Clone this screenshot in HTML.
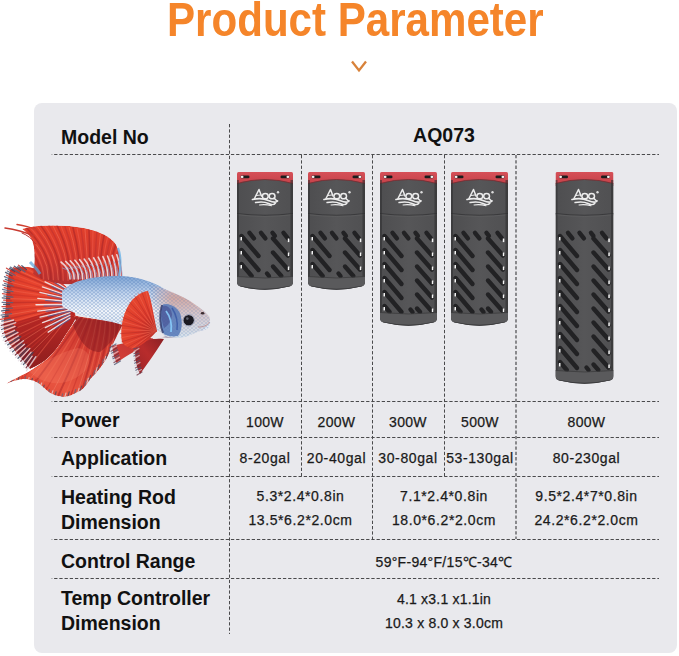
<!DOCTYPE html>
<html><head><meta charset="utf-8">
<style>
html,body{margin:0;padding:0;background:#fff;}
body{width:679px;height:656px;position:relative;overflow:hidden;font-family:"Liberation Sans",Arial,sans-serif;}
.abs{position:absolute;white-space:nowrap;}
#title{left:167px;top:-9px;font-size:49px;font-weight:bold;color:#F5852A;line-height:56px;transform-origin:0 0;transform:scaleX(0.859);}
#panel{left:34px;top:103px;width:643px;height:550px;border-radius:8px;background:#E9E9ED;}
.lab{font-weight:bold;font-size:19.5px;color:#111;line-height:24.5px;left:61px;}
.val{font-size:14px;color:#1a1a1a;line-height:24px;text-align:center;-webkit-text-stroke:0.25px #1a1a1a;}
svg{position:absolute;left:0;top:0;}
</style></head>
<body>
<div id="title" class="abs">Product Parameter</div>
<svg width="679" height="100" style="left:0;top:0"><polyline points="352,61.5 359,70.5 366,61.5" fill="none" stroke="#D8823A" stroke-width="2.3" stroke-linejoin="miter"/></svg>
<div id="panel" class="abs"></div>
<svg width="679" height="656"><defs>
<linearGradient id="redg" x1="0" y1="0" x2="0" y2="1"><stop offset="0" stop-color="#d65058"/><stop offset="1" stop-color="#c23e46"/></linearGradient>
<linearGradient id="bodyg" x1="0" y1="0" x2="1" y2="0"><stop offset="0" stop-color="#4e4e50"/><stop offset="0.5" stop-color="#565658"/><stop offset="1" stop-color="#505052"/></linearGradient>
</defs>
<clipPath id="hc0"><path d="M238.5,172 L291.5,172 Q293,172 293,173.5 L293,282 Q293,285.5 289,286.6 Q265.0,292.8 241,286.6 Q237,285.5 237,282 L237,173.5 Q237,172 238.5,172 Z"/></clipPath>
<g clip-path="url(#hc0)">
<rect x="237" y="172" width="56" height="14" fill="url(#redg)"/>
<path d="M237,183.5 Q265.0,175.5 293,183.5 L293,292 L237,292 Z" fill="url(#bodyg)"/>
<path d="M237,183.5 Q265.0,175.5 293,183.5" fill="none" stroke="#7a2a30" stroke-width="1" opacity="0.8"/>
<rect x="240.5" y="175.6" width="9" height="2.6" rx="1.3" fill="#1c1c1c"/>
<rect x="240.7" y="175.8" width="2.8" height="2.2" rx="1.1" fill="#f4f0f0"/>
<rect x="280.5" y="175.6" width="9" height="2.6" rx="1.3" fill="#1c1c1c"/>
<rect x="286.5" y="175.8" width="2.8" height="2.2" rx="1.1" fill="#f4f0f0"/>
<path d="M237,213.5 Q265.0,217 293,213.5" fill="none" stroke="#3a3a3c" stroke-width="1"/>
<path d="M237,214.7 Q265.0,218.2 293,214.7" fill="none" stroke="#5e5e60" stroke-width="0.8"/>
<g fill="none" stroke="#ececec" stroke-width="1.5" stroke-linecap="round" stroke-linejoin="round"><path d="M254.5,198.5 L259.0,189.5 L261.5,196" /><path d="M256.5,195.5 L260.5,195" stroke-width="1"/><ellipse cx="265.3" cy="196.2" rx="2.9" ry="2.6"/><ellipse cx="272.1" cy="196.2" rx="2.9" ry="2.6"/><path d="M274.0,198 L277.0,201"/><path d="M252.5,199.5 Q261.5,197.5 268.5,200.5 T277.5,201" stroke-width="1.7"/><path d="M255.5,202.5 Q263.5,201 268.5,203.5 T275.5,203" stroke-width="1.4"/><path d="M259.5,205 Q265.5,204 271.5,205.8" stroke-width="1.1"/></g>
<circle cx="278.0" cy="192.2" r="1.2" fill="#ddd"/>
<g stroke="#222224" stroke-width="4.4" stroke-linecap="round"><line x1="249.5" y1="232.8" x2="253.9" y2="238.3"/><line x1="261.0" y1="232.8" x2="265.4" y2="238.3"/><line x1="272.5" y1="232.8" x2="274.9" y2="235.8"/><line x1="283.5" y1="232.8" x2="287.9" y2="238.3"/><line x1="241.5" y1="236" x2="258.5" y2="256"/><line x1="273" y1="238.5" x2="287.96" y2="255.5"/><line x1="241.5" y1="250" x2="258.5" y2="270"/><line x1="273" y1="252.5" x2="287.96" y2="269.5"/><line x1="241.5" y1="264" x2="251.7" y2="276"/><line x1="273" y1="266.5" x2="281.36" y2="276"/><line x1="267.0" y1="273.5" x2="269.0" y2="276"/></g>
<rect x="240.5" y="237" width="1.5" height="3.4" fill="#f4f4f4"/><rect x="287.8" y="238.5" width="1.5" height="3.6" fill="#f4f4f4"/><rect x="240.5" y="251" width="1.5" height="3.4" fill="#f4f4f4"/><rect x="287.8" y="252.5" width="1.5" height="3.6" fill="#f4f4f4"/><rect x="240.5" y="265" width="1.5" height="3.4" fill="#f4f4f4"/><rect x="287.8" y="266.5" width="1.5" height="3.6" fill="#f4f4f4"/>
<rect x="237" y="180" width="2" height="118" fill="#2e2e30" opacity="0.55"/>
<rect x="290.5" y="180" width="2.5" height="118" fill="#2e2e30" opacity="0.6"/>
<path d="M237,276.5 Q265.0,279.5 293,276.5 L293,293 L237,293 Z" fill="#5a5a5c"/>
<path d="M237,276.5 Q265.0,279.5 293,276.5" fill="none" stroke="#3c3c3e" stroke-width="0.8"/>
<path d="M240,286.4 Q265.0,292.2 290,286.4" fill="none" stroke="#3a3a3c" stroke-width="1.2"/>
</g>
<clipPath id="hc1"><path d="M309.5,172 L363.5,172 Q365,172 365,173.5 L365,282 Q365,285.5 361,286.6 Q336.5,292.8 312,286.6 Q308,285.5 308,282 L308,173.5 Q308,172 309.5,172 Z"/></clipPath>
<g clip-path="url(#hc1)">
<rect x="308" y="172" width="57" height="14" fill="url(#redg)"/>
<path d="M308,183.5 Q336.5,175.5 365,183.5 L365,292 L308,292 Z" fill="url(#bodyg)"/>
<path d="M308,183.5 Q336.5,175.5 365,183.5" fill="none" stroke="#7a2a30" stroke-width="1" opacity="0.8"/>
<rect x="311.5" y="175.6" width="9" height="2.6" rx="1.3" fill="#1c1c1c"/>
<rect x="311.7" y="175.8" width="2.8" height="2.2" rx="1.1" fill="#f4f0f0"/>
<rect x="352.5" y="175.6" width="9" height="2.6" rx="1.3" fill="#1c1c1c"/>
<rect x="358.5" y="175.8" width="2.8" height="2.2" rx="1.1" fill="#f4f0f0"/>
<path d="M308,213.5 Q336.5,217 365,213.5" fill="none" stroke="#3a3a3c" stroke-width="1"/>
<path d="M308,214.7 Q336.5,218.2 365,214.7" fill="none" stroke="#5e5e60" stroke-width="0.8"/>
<g fill="none" stroke="#ececec" stroke-width="1.5" stroke-linecap="round" stroke-linejoin="round"><path d="M326.0,198.5 L330.5,189.5 L333.0,196" /><path d="M328.0,195.5 L332.0,195" stroke-width="1"/><ellipse cx="336.8" cy="196.2" rx="2.9" ry="2.6"/><ellipse cx="343.6" cy="196.2" rx="2.9" ry="2.6"/><path d="M345.5,198 L348.5,201"/><path d="M324.0,199.5 Q333.0,197.5 340.0,200.5 T349.0,201" stroke-width="1.7"/><path d="M327.0,202.5 Q335.0,201 340.0,203.5 T347.0,203" stroke-width="1.4"/><path d="M331.0,205 Q337.0,204 343.0,205.8" stroke-width="1.1"/></g>
<circle cx="349.5" cy="192.2" r="1.2" fill="#ddd"/>
<g stroke="#222224" stroke-width="4.4" stroke-linecap="round"><line x1="320.5" y1="232.8" x2="324.9" y2="238.3"/><line x1="332.0" y1="232.8" x2="336.4" y2="238.3"/><line x1="343.5" y1="232.8" x2="345.9" y2="235.8"/><line x1="354.5" y1="232.8" x2="358.9" y2="238.3"/><line x1="312.5" y1="236" x2="329.5" y2="256"/><line x1="345" y1="238.5" x2="359.96" y2="255.5"/><line x1="312.5" y1="250" x2="329.5" y2="270"/><line x1="345" y1="252.5" x2="359.96" y2="269.5"/><line x1="312.5" y1="264" x2="322.7" y2="276"/><line x1="345" y1="266.5" x2="353.36" y2="276"/><line x1="338.5" y1="273.5" x2="340.5" y2="276"/></g>
<rect x="311.5" y="237" width="1.5" height="3.4" fill="#f4f4f4"/><rect x="359.8" y="238.5" width="1.5" height="3.6" fill="#f4f4f4"/><rect x="311.5" y="251" width="1.5" height="3.4" fill="#f4f4f4"/><rect x="359.8" y="252.5" width="1.5" height="3.6" fill="#f4f4f4"/><rect x="311.5" y="265" width="1.5" height="3.4" fill="#f4f4f4"/><rect x="359.8" y="266.5" width="1.5" height="3.6" fill="#f4f4f4"/>
<rect x="308" y="180" width="2" height="118" fill="#2e2e30" opacity="0.55"/>
<rect x="362.5" y="180" width="2.5" height="118" fill="#2e2e30" opacity="0.6"/>
<path d="M308,276.5 Q336.5,279.5 365,276.5 L365,293 L308,293 Z" fill="#5a5a5c"/>
<path d="M308,276.5 Q336.5,279.5 365,276.5" fill="none" stroke="#3c3c3e" stroke-width="0.8"/>
<path d="M311,286.4 Q336.5,292.2 362,286.4" fill="none" stroke="#3a3a3c" stroke-width="1.2"/>
</g>
<clipPath id="hc2"><path d="M381.5,172 L435.5,172 Q437,172 437,173.5 L437,318 Q437,321.5 433,322.6 Q408.5,328.8 384,322.6 Q380,321.5 380,318 L380,173.5 Q380,172 381.5,172 Z"/></clipPath>
<g clip-path="url(#hc2)">
<rect x="380" y="172" width="57" height="14" fill="url(#redg)"/>
<path d="M380,183.5 Q408.5,175.5 437,183.5 L437,328 L380,328 Z" fill="url(#bodyg)"/>
<path d="M380,183.5 Q408.5,175.5 437,183.5" fill="none" stroke="#7a2a30" stroke-width="1" opacity="0.8"/>
<rect x="383.5" y="175.6" width="9" height="2.6" rx="1.3" fill="#1c1c1c"/>
<rect x="383.7" y="175.8" width="2.8" height="2.2" rx="1.1" fill="#f4f0f0"/>
<rect x="424.5" y="175.6" width="9" height="2.6" rx="1.3" fill="#1c1c1c"/>
<rect x="430.5" y="175.8" width="2.8" height="2.2" rx="1.1" fill="#f4f0f0"/>
<path d="M380,213.5 Q408.5,217 437,213.5" fill="none" stroke="#3a3a3c" stroke-width="1"/>
<path d="M380,214.7 Q408.5,218.2 437,214.7" fill="none" stroke="#5e5e60" stroke-width="0.8"/>
<g fill="none" stroke="#ececec" stroke-width="1.5" stroke-linecap="round" stroke-linejoin="round"><path d="M398.0,198.5 L402.5,189.5 L405.0,196" /><path d="M400.0,195.5 L404.0,195" stroke-width="1"/><ellipse cx="408.8" cy="196.2" rx="2.9" ry="2.6"/><ellipse cx="415.6" cy="196.2" rx="2.9" ry="2.6"/><path d="M417.5,198 L420.5,201"/><path d="M396.0,199.5 Q405.0,197.5 412.0,200.5 T421.0,201" stroke-width="1.7"/><path d="M399.0,202.5 Q407.0,201 412.0,203.5 T419.0,203" stroke-width="1.4"/><path d="M403.0,205 Q409.0,204 415.0,205.8" stroke-width="1.1"/></g>
<circle cx="421.5" cy="192.2" r="1.2" fill="#ddd"/>
<g stroke="#222224" stroke-width="4.4" stroke-linecap="round"><line x1="392.5" y1="232.8" x2="396.9" y2="238.3"/><line x1="404.0" y1="232.8" x2="408.4" y2="238.3"/><line x1="415.5" y1="232.8" x2="417.9" y2="235.8"/><line x1="426.5" y1="232.8" x2="430.9" y2="238.3"/><line x1="384.5" y1="236" x2="401.5" y2="256"/><line x1="417" y1="238.5" x2="431.96" y2="255.5"/><line x1="384.5" y1="250" x2="401.5" y2="270"/><line x1="417" y1="252.5" x2="431.96" y2="269.5"/><line x1="384.5" y1="264" x2="401.5" y2="284"/><line x1="417" y1="266.5" x2="431.96" y2="283.5"/><line x1="384.5" y1="278" x2="401.5" y2="298"/><line x1="417" y1="280.5" x2="431.96" y2="297.5"/><line x1="384.5" y1="292" x2="401.5" y2="312"/><line x1="417" y1="294.5" x2="431.96" y2="311.5"/><line x1="384.5" y1="306" x2="389.6" y2="312"/><line x1="417" y1="308.5" x2="420.08" y2="312"/><line x1="410.5" y1="309.5" x2="412.5" y2="312"/></g>
<rect x="383.5" y="237" width="1.5" height="3.4" fill="#f4f4f4"/><rect x="431.8" y="238.5" width="1.5" height="3.6" fill="#f4f4f4"/><rect x="383.5" y="251" width="1.5" height="3.4" fill="#f4f4f4"/><rect x="431.8" y="252.5" width="1.5" height="3.6" fill="#f4f4f4"/><rect x="383.5" y="265" width="1.5" height="3.4" fill="#f4f4f4"/><rect x="431.8" y="266.5" width="1.5" height="3.6" fill="#f4f4f4"/><rect x="383.5" y="279" width="1.5" height="3.4" fill="#f4f4f4"/><rect x="431.8" y="280.5" width="1.5" height="3.6" fill="#f4f4f4"/><rect x="383.5" y="293" width="1.5" height="3.4" fill="#f4f4f4"/><rect x="431.8" y="294.5" width="1.5" height="3.6" fill="#f4f4f4"/><rect x="383.5" y="307" width="1.5" height="3.4" fill="#f4f4f4"/><rect x="431.8" y="308.5" width="1.5" height="3.6" fill="#f4f4f4"/>
<rect x="380" y="180" width="2" height="154" fill="#2e2e30" opacity="0.55"/>
<rect x="434.5" y="180" width="2.5" height="154" fill="#2e2e30" opacity="0.6"/>
<path d="M380,312.5 Q408.5,315.5 437,312.5 L437,329 L380,329 Z" fill="#5a5a5c"/>
<path d="M380,312.5 Q408.5,315.5 437,312.5" fill="none" stroke="#3c3c3e" stroke-width="0.8"/>
<path d="M383,322.4 Q408.5,328.2 434,322.4" fill="none" stroke="#3a3a3c" stroke-width="1.2"/>
</g>
<clipPath id="hc3"><path d="M452.5,172 L506.5,172 Q508,172 508,173.5 L508,318 Q508,321.5 504,322.6 Q479.5,328.8 455,322.6 Q451,321.5 451,318 L451,173.5 Q451,172 452.5,172 Z"/></clipPath>
<g clip-path="url(#hc3)">
<rect x="451" y="172" width="57" height="14" fill="url(#redg)"/>
<path d="M451,183.5 Q479.5,175.5 508,183.5 L508,328 L451,328 Z" fill="url(#bodyg)"/>
<path d="M451,183.5 Q479.5,175.5 508,183.5" fill="none" stroke="#7a2a30" stroke-width="1" opacity="0.8"/>
<rect x="454.5" y="175.6" width="9" height="2.6" rx="1.3" fill="#1c1c1c"/>
<rect x="454.7" y="175.8" width="2.8" height="2.2" rx="1.1" fill="#f4f0f0"/>
<rect x="495.5" y="175.6" width="9" height="2.6" rx="1.3" fill="#1c1c1c"/>
<rect x="501.5" y="175.8" width="2.8" height="2.2" rx="1.1" fill="#f4f0f0"/>
<path d="M451,213.5 Q479.5,217 508,213.5" fill="none" stroke="#3a3a3c" stroke-width="1"/>
<path d="M451,214.7 Q479.5,218.2 508,214.7" fill="none" stroke="#5e5e60" stroke-width="0.8"/>
<g fill="none" stroke="#ececec" stroke-width="1.5" stroke-linecap="round" stroke-linejoin="round"><path d="M469.0,198.5 L473.5,189.5 L476.0,196" /><path d="M471.0,195.5 L475.0,195" stroke-width="1"/><ellipse cx="479.8" cy="196.2" rx="2.9" ry="2.6"/><ellipse cx="486.6" cy="196.2" rx="2.9" ry="2.6"/><path d="M488.5,198 L491.5,201"/><path d="M467.0,199.5 Q476.0,197.5 483.0,200.5 T492.0,201" stroke-width="1.7"/><path d="M470.0,202.5 Q478.0,201 483.0,203.5 T490.0,203" stroke-width="1.4"/><path d="M474.0,205 Q480.0,204 486.0,205.8" stroke-width="1.1"/></g>
<circle cx="492.5" cy="192.2" r="1.2" fill="#ddd"/>
<g stroke="#222224" stroke-width="4.4" stroke-linecap="round"><line x1="463.5" y1="232.8" x2="467.9" y2="238.3"/><line x1="475.0" y1="232.8" x2="479.4" y2="238.3"/><line x1="486.5" y1="232.8" x2="488.9" y2="235.8"/><line x1="497.5" y1="232.8" x2="501.9" y2="238.3"/><line x1="455.5" y1="236" x2="472.5" y2="256"/><line x1="488" y1="238.5" x2="502.96" y2="255.5"/><line x1="455.5" y1="250" x2="472.5" y2="270"/><line x1="488" y1="252.5" x2="502.96" y2="269.5"/><line x1="455.5" y1="264" x2="472.5" y2="284"/><line x1="488" y1="266.5" x2="502.96" y2="283.5"/><line x1="455.5" y1="278" x2="472.5" y2="298"/><line x1="488" y1="280.5" x2="502.96" y2="297.5"/><line x1="455.5" y1="292" x2="472.5" y2="312"/><line x1="488" y1="294.5" x2="502.96" y2="311.5"/><line x1="455.5" y1="306" x2="460.6" y2="312"/><line x1="488" y1="308.5" x2="491.08" y2="312"/><line x1="481.5" y1="309.5" x2="483.5" y2="312"/></g>
<rect x="454.5" y="237" width="1.5" height="3.4" fill="#f4f4f4"/><rect x="502.8" y="238.5" width="1.5" height="3.6" fill="#f4f4f4"/><rect x="454.5" y="251" width="1.5" height="3.4" fill="#f4f4f4"/><rect x="502.8" y="252.5" width="1.5" height="3.6" fill="#f4f4f4"/><rect x="454.5" y="265" width="1.5" height="3.4" fill="#f4f4f4"/><rect x="502.8" y="266.5" width="1.5" height="3.6" fill="#f4f4f4"/><rect x="454.5" y="279" width="1.5" height="3.4" fill="#f4f4f4"/><rect x="502.8" y="280.5" width="1.5" height="3.6" fill="#f4f4f4"/><rect x="454.5" y="293" width="1.5" height="3.4" fill="#f4f4f4"/><rect x="502.8" y="294.5" width="1.5" height="3.6" fill="#f4f4f4"/><rect x="454.5" y="307" width="1.5" height="3.4" fill="#f4f4f4"/><rect x="502.8" y="308.5" width="1.5" height="3.6" fill="#f4f4f4"/>
<rect x="451" y="180" width="2" height="154" fill="#2e2e30" opacity="0.55"/>
<rect x="505.5" y="180" width="2.5" height="154" fill="#2e2e30" opacity="0.6"/>
<path d="M451,312.5 Q479.5,315.5 508,312.5 L508,329 L451,329 Z" fill="#5a5a5c"/>
<path d="M451,312.5 Q479.5,315.5 508,312.5" fill="none" stroke="#3c3c3e" stroke-width="0.8"/>
<path d="M454,322.4 Q479.5,328.2 505,322.4" fill="none" stroke="#3a3a3c" stroke-width="1.2"/>
</g>
<clipPath id="hc4"><path d="M557.0,172 L612.0,172 Q613.5,172 613.5,173.5 L613.5,376 Q613.5,379.5 609.5,380.6 Q584.5,386.8 559.5,380.6 Q555.5,379.5 555.5,376 L555.5,173.5 Q555.5,172 557.0,172 Z"/></clipPath>
<g clip-path="url(#hc4)">
<rect x="555.5" y="172" width="58" height="14" fill="url(#redg)"/>
<path d="M555.5,183.5 Q584.5,175.5 613.5,183.5 L613.5,386 L555.5,386 Z" fill="url(#bodyg)"/>
<path d="M555.5,183.5 Q584.5,175.5 613.5,183.5" fill="none" stroke="#7a2a30" stroke-width="1" opacity="0.8"/>
<rect x="559.0" y="175.6" width="9" height="2.6" rx="1.3" fill="#1c1c1c"/>
<rect x="559.2" y="175.8" width="2.8" height="2.2" rx="1.1" fill="#f4f0f0"/>
<rect x="601.0" y="175.6" width="9" height="2.6" rx="1.3" fill="#1c1c1c"/>
<rect x="607.0" y="175.8" width="2.8" height="2.2" rx="1.1" fill="#f4f0f0"/>
<path d="M555.5,213.5 Q584.5,217 613.5,213.5" fill="none" stroke="#3a3a3c" stroke-width="1"/>
<path d="M555.5,214.7 Q584.5,218.2 613.5,214.7" fill="none" stroke="#5e5e60" stroke-width="0.8"/>
<g fill="none" stroke="#ececec" stroke-width="1.5" stroke-linecap="round" stroke-linejoin="round"><path d="M574.0,198.5 L578.5,189.5 L581.0,196" /><path d="M576.0,195.5 L580.0,195" stroke-width="1"/><ellipse cx="584.8" cy="196.2" rx="2.9" ry="2.6"/><ellipse cx="591.6" cy="196.2" rx="2.9" ry="2.6"/><path d="M593.5,198 L596.5,201"/><path d="M572.0,199.5 Q581.0,197.5 588.0,200.5 T597.0,201" stroke-width="1.7"/><path d="M575.0,202.5 Q583.0,201 588.0,203.5 T595.0,203" stroke-width="1.4"/><path d="M579.0,205 Q585.0,204 591.0,205.8" stroke-width="1.1"/></g>
<circle cx="597.5" cy="192.2" r="1.2" fill="#ddd"/>
<g stroke="#222224" stroke-width="4.4" stroke-linecap="round"><line x1="568.0" y1="232.8" x2="572.4" y2="238.3"/><line x1="579.5" y1="232.8" x2="583.9" y2="238.3"/><line x1="591.0" y1="232.8" x2="593.4" y2="235.8"/><line x1="602.0" y1="232.8" x2="606.4" y2="238.3"/><line x1="560.0" y1="236" x2="577.0" y2="256"/><line x1="593.5" y1="238.5" x2="608.46" y2="255.5"/><line x1="560.0" y1="250" x2="577.0" y2="270"/><line x1="593.5" y1="252.5" x2="608.46" y2="269.5"/><line x1="560.0" y1="264" x2="577.0" y2="284"/><line x1="593.5" y1="266.5" x2="608.46" y2="283.5"/><line x1="560.0" y1="278" x2="577.0" y2="298"/><line x1="593.5" y1="280.5" x2="608.46" y2="297.5"/><line x1="560.0" y1="292" x2="577.0" y2="312"/><line x1="593.5" y1="294.5" x2="608.46" y2="311.5"/><line x1="560.0" y1="306" x2="577.0" y2="326"/><line x1="593.5" y1="308.5" x2="608.46" y2="325.5"/><line x1="560.0" y1="320" x2="577.0" y2="340"/><line x1="593.5" y1="322.5" x2="608.46" y2="339.5"/><line x1="560.0" y1="334" x2="577.0" y2="354"/><line x1="593.5" y1="336.5" x2="608.46" y2="353.5"/><line x1="560.0" y1="348" x2="577.0" y2="368"/><line x1="593.5" y1="350.5" x2="608.46" y2="367.5"/><line x1="560.0" y1="362" x2="566.8" y2="370"/><line x1="593.5" y1="364.5" x2="598.34" y2="370"/><line x1="586.5" y1="367.5" x2="588.5" y2="370"/></g>
<rect x="559.0" y="237" width="1.5" height="3.4" fill="#f4f4f4"/><rect x="608.3" y="238.5" width="1.5" height="3.6" fill="#f4f4f4"/><rect x="559.0" y="251" width="1.5" height="3.4" fill="#f4f4f4"/><rect x="608.3" y="252.5" width="1.5" height="3.6" fill="#f4f4f4"/><rect x="559.0" y="265" width="1.5" height="3.4" fill="#f4f4f4"/><rect x="608.3" y="266.5" width="1.5" height="3.6" fill="#f4f4f4"/><rect x="559.0" y="279" width="1.5" height="3.4" fill="#f4f4f4"/><rect x="608.3" y="280.5" width="1.5" height="3.6" fill="#f4f4f4"/><rect x="559.0" y="293" width="1.5" height="3.4" fill="#f4f4f4"/><rect x="608.3" y="294.5" width="1.5" height="3.6" fill="#f4f4f4"/><rect x="559.0" y="307" width="1.5" height="3.4" fill="#f4f4f4"/><rect x="608.3" y="308.5" width="1.5" height="3.6" fill="#f4f4f4"/><rect x="559.0" y="321" width="1.5" height="3.4" fill="#f4f4f4"/><rect x="608.3" y="322.5" width="1.5" height="3.6" fill="#f4f4f4"/><rect x="559.0" y="335" width="1.5" height="3.4" fill="#f4f4f4"/><rect x="608.3" y="336.5" width="1.5" height="3.6" fill="#f4f4f4"/><rect x="559.0" y="349" width="1.5" height="3.4" fill="#f4f4f4"/><rect x="608.3" y="350.5" width="1.5" height="3.6" fill="#f4f4f4"/><rect x="559.0" y="363" width="1.5" height="3.4" fill="#f4f4f4"/><rect x="608.3" y="364.5" width="1.5" height="3.6" fill="#f4f4f4"/>
<rect x="555.5" y="180" width="2" height="212" fill="#2e2e30" opacity="0.55"/>
<rect x="611.0" y="180" width="2.5" height="212" fill="#2e2e30" opacity="0.6"/>
<path d="M555.5,370.5 Q584.5,373.5 613.5,370.5 L613.5,387 L555.5,387 Z" fill="#5a5a5c"/>
<path d="M555.5,370.5 Q584.5,373.5 613.5,370.5" fill="none" stroke="#3c3c3e" stroke-width="0.8"/>
<path d="M558.5,380.4 Q584.5,386.2 610.5,380.4" fill="none" stroke="#3a3a3c" stroke-width="1.2"/>
</g></svg>

<svg id="grid" width="679" height="656">
<g stroke="#4a4a4c" stroke-width="1" stroke-dasharray="3.3 1.9" stroke-dashoffset="2.76" fill="none">
<line x1="51.7" y1="154.5" x2="659" y2="154.5"/>
<line x1="51.7" y1="401.5" x2="659" y2="401.5"/>
<line x1="51.7" y1="437.5" x2="659" y2="437.5"/>
<line x1="51.7" y1="476.5" x2="659" y2="476.5"/>
<line x1="51.7" y1="539.5" x2="659" y2="539.5"/>
<line x1="51.7" y1="578.5" x2="659" y2="578.5"/>
</g>
<g stroke="#4a4a4c" stroke-width="1" stroke-dasharray="3.3 2" fill="none">
<line x1="229.5" y1="124" x2="229.5" y2="634"/>
<line x1="301.5" y1="155" x2="301.5" y2="476"/>
<line x1="372.5" y1="155" x2="372.5" y2="539"/>
<line x1="444.5" y1="155" x2="444.5" y2="476"/>
<line x1="516" y1="155" x2="516" y2="539" stroke-width="1.2"/>
</g>
</svg>

<div class="abs lab" style="top:125px">Model No</div>
<div class="abs lab" style="top:408px">Power</div>
<div class="abs lab" style="top:446px">Application</div>
<div class="abs lab" style="top:485px">Heating Rod<br>Dimension</div>
<div class="abs lab" style="top:549px">Control Range</div>
<div class="abs lab" style="top:586px">Temp Controller<br>Dimension</div>

<div class="abs lab" style="left:229px;width:430px;text-align:center;top:123px;">AQ073</div>

<div class="abs val" style="left:229px;width:72px;top:410px;letter-spacing:0.3px">100W</div>
<div class="abs val" style="left:301px;width:71px;top:410px;letter-spacing:0.3px">200W</div>
<div class="abs val" style="left:372px;width:72px;top:410px;letter-spacing:0.3px">300W</div>
<div class="abs val" style="left:444px;width:72px;top:410px;letter-spacing:0.3px">500W</div>
<div class="abs val" style="left:516px;width:141px;top:410px;letter-spacing:0.3px">800W</div>

<div class="abs val" style="left:229px;width:72px;top:446px;letter-spacing:0.6px">8-20gal</div>
<div class="abs val" style="left:301px;width:71px;top:446px;letter-spacing:0.6px">20-40gal</div>
<div class="abs val" style="left:372px;width:72px;top:446px;letter-spacing:0.6px">30-80gal</div>
<div class="abs val" style="left:444px;width:72px;top:446px;letter-spacing:0.6px">53-130gal</div>
<div class="abs val" style="left:516px;width:141px;top:446px;letter-spacing:0.6px">80-230gal</div>

<div class="abs val" style="left:229px;width:143px;top:484px;letter-spacing:0.6px">5.3*2.4*0.8in<br>13.5*6.2*2.0cm</div>
<div class="abs val" style="left:372px;width:144px;top:484px;letter-spacing:0.6px">7.1*2.4*0.8in<br>18.0*6.2*2.0cm</div>
<div class="abs val" style="left:516px;width:141px;top:484px;letter-spacing:0.6px">9.5*2.4*7*0.8in<br>24.2*6.2*2.0cm</div>

<div class="abs val" style="left:229px;width:430px;top:550px;letter-spacing:0.3px">59°F-94°F/15℃-34℃</div>
<div class="abs val" style="left:229px;width:430px;top:588px;letter-spacing:0.2px;line-height:23.5px">4.1 x3.1 x1.1in<br>10.3 x 8.0 x 3.0cm</div>

<svg width="679" height="656" viewBox="0 0 679 656" style="left:0;top:0">
<defs>
<linearGradient id="fTail" x1="1" y1="0.3" x2="0" y2="0.6"><stop offset="0" stop-color="#d83a2e"/><stop offset="0.5" stop-color="#e8442e"/><stop offset="1" stop-color="#d83a2a"/></linearGradient>
<linearGradient id="fTailLow" x1="0" y1="0" x2="0" y2="1"><stop offset="0" stop-color="#c02a26"/><stop offset="1" stop-color="#8e1e1e"/></linearGradient>
<linearGradient id="fAnal" x1="1" y1="0" x2="0" y2="1"><stop offset="0" stop-color="#9a2424"/><stop offset="0.3" stop-color="#d03a30"/><stop offset="0.7" stop-color="#e85440"/><stop offset="1" stop-color="#d84434"/></linearGradient>
<linearGradient id="fDors" x1="0" y1="0" x2="0" y2="1"><stop offset="0" stop-color="#e2402c"/><stop offset="0.55" stop-color="#d43a2e"/><stop offset="1" stop-color="#b03030"/></linearGradient>
<linearGradient id="fBody" x1="0" y1="0" x2="0" y2="1"><stop offset="0" stop-color="#7ea4d4"/><stop offset="0.28" stop-color="#c4d6ee"/><stop offset="0.55" stop-color="#f4f7fb"/><stop offset="0.85" stop-color="#e0e8f2"/><stop offset="1" stop-color="#c8b0b8"/></linearGradient>
<linearGradient id="fHead" x1="0" y1="0" x2="1" y2="0"><stop offset="0" stop-color="#d8e2f0" stop-opacity="0"/><stop offset="0.4" stop-color="#e0d0d4"/><stop offset="1" stop-color="#e8c4c0"/></linearGradient>
<linearGradient id="fHead2" x1="0" y1="0" x2="0" y2="1"><stop offset="0" stop-color="#c8b4c0"/><stop offset="0.3" stop-color="#d4aaa4"/><stop offset="0.6" stop-color="#d8c8cc"/><stop offset="1" stop-color="#d8e4ee"/></linearGradient>
<linearGradient id="hMG" gradientUnits="userSpaceOnUse" x1="150" y1="0" x2="172" y2="0"><stop offset="0" stop-color="#000"/><stop offset="1" stop-color="#fff"/></linearGradient>
<mask id="mHead"><rect x="140" y="275" width="80" height="70" fill="url(#hMG)"/></mask>
<linearGradient id="fVen1" x1="1" y1="0" x2="0" y2="1"><stop offset="0" stop-color="#b83030"/><stop offset="1" stop-color="#d84038"/></linearGradient>
<linearGradient id="fVen2" x1="1" y1="0" x2="0" y2="1"><stop offset="0" stop-color="#8a2024"/><stop offset="0.5" stop-color="#b82c2c"/><stop offset="1" stop-color="#9a2428"/></linearGradient>
<radialGradient id="fPect" cx="156" cy="330" r="34" gradientUnits="userSpaceOnUse"><stop offset="0" stop-color="#b83028"/><stop offset="0.5" stop-color="#dc3a2c"/><stop offset="1" stop-color="#e4442e"/></radialGradient>
<pattern id="scales" width="4" height="3.4" patternUnits="userSpaceOnUse"><path d="M0,1.7 L2,0 L4,1.7 L2,3.4 Z" fill="none" stroke="#4a74b4" stroke-width="0.6" opacity="0.5"/></pattern>
<clipPath id="cDors"><path d="M122,281 C122,263 120,251 115,243 C108,235 98,231 84,228 C70,225 50,225 38,226 C32,226.5 27,227.5 22,229 C28,233 32,238 33.5,245 C35,253 35,263 33,274 C50,288 90,286 122,281 Z"/></clipPath>
<clipPath id="cTail"><path d="M72,292 C62,282 50,272 34,268 C24,266 16,266 10,270 C7,280 6,296 5.5,307 C5,316 3,322 3.4,327 C4,333 5,336 6.7,339 C9,343 11,346 13.4,349 C17,354 20,357 23.5,360.7 C26,364 28,367 30,369 C38,365 44,362 48,358 C54,352 59,346 63,339 C67,332 72,326 76,318 Z"/></clipPath>
<clipPath id="cAnal"><path d="M70,314 C82,318 104,320 124,322 C120,330 112,345 107,358 C102,366 96,374 92,377 C87,384 84,389 80,391 C74,394 68,397 63,397 C58,396 53,395 50,393 C45,389 41,385 38,383 C33,380 28,379 23,379 C16,380 10,382 5.7,384 C12,380 20,376 28.7,371.7 C36,367 42,363 47.9,358.3 C54,352 59,346 63.2,339 C67,332 72,326 76,320 Z"/></clipPath>
</defs>
<g clip-path="url(#cTail)">
<path d="M72,292 C62,282 50,272 34,268 C24,266 16,266 10,270 C7,280 6,296 5.5,307 C5,316 3,322 3.4,327 C4,333 5,336 6.7,339 C9,343 11,346 13.4,349 C17,354 20,357 23.5,360.7 C26,364 28,367 30,369 C38,365 44,362 48,358 C54,352 59,346 63,339 C67,332 72,326 76,318 Z" fill="url(#fTail)"/>
<path d="M70,304 C56,310 36,316 16,322 C12,334 14,348 22,360 L30,369 C38,365 44,362 48,358 C54,352 59,346 63,339 C67,332 72,326 76,318 Z" fill="url(#fTailLow)"/>
<g fill="none" stroke-linecap="round"><path d="M68.0,290.5 Q48.0,278.4 27.9,266.4" stroke="#b02624" stroke-width="1.6" opacity="0.5"/><path d="M68.0,291.4 Q45.9,279.3 23.7,267.3" stroke="#f2604a" stroke-width="1.1" opacity="0.5"/><path d="M68.0,292.3 Q43.8,280.2 19.5,268.1" stroke="#c83028" stroke-width="1.3" opacity="0.5"/><path d="M68.0,293.3 Q41.7,281.1 15.3,268.9" stroke="#f47a5e" stroke-width="0.9" opacity="0.5"/><path d="M68.0,294.2 Q39.6,282.0 11.1,269.8" stroke="#b02624" stroke-width="1.6" opacity="0.5"/><path d="M68.0,295.1 Q38.7,284.1 9.3,273.1" stroke="#f2604a" stroke-width="1.1" opacity="0.5"/><path d="M68.0,296.1 Q38.2,286.7 8.4,277.3" stroke="#c83028" stroke-width="1.3" opacity="0.5"/><path d="M68.0,297.0 Q37.7,289.2 7.5,281.4" stroke="#f47a5e" stroke-width="0.9" opacity="0.5"/><path d="M68.0,297.9 Q37.3,291.8 6.7,285.6" stroke="#b02624" stroke-width="1.6" opacity="0.5"/><path d="M68.0,298.9 Q37.3,294.4 6.5,289.9" stroke="#f2604a" stroke-width="1.1" opacity="0.5"/><path d="M68.0,299.8 Q37.2,297.0 6.4,294.2" stroke="#c83028" stroke-width="1.3" opacity="0.5"/><path d="M68.0,300.7 Q37.1,299.6 6.3,298.5" stroke="#f47a5e" stroke-width="0.9" opacity="0.5"/><path d="M68.0,301.7 Q37.1,302.2 6.1,302.7" stroke="#b02624" stroke-width="1.6" opacity="0.5"/><path d="M68.0,302.6 Q37.0,304.8 6.0,307.0" stroke="#f2604a" stroke-width="1.1" opacity="0.5"/><path d="M68.0,303.5 Q36.7,307.4 5.4,311.3" stroke="#c83028" stroke-width="1.3" opacity="0.5"/><path d="M68.0,304.5 Q36.4,310.0 4.9,315.5" stroke="#f47a5e" stroke-width="0.9" opacity="0.5"/><path d="M68.0,305.4 Q36.2,312.6 4.3,319.8" stroke="#b02624" stroke-width="1.6" opacity="0.5"/><path d="M68.0,306.3 Q35.9,315.2 3.8,324.0" stroke="#f2604a" stroke-width="1.1" opacity="0.5"/><path d="M68.0,307.3 Q35.9,317.7 3.7,328.2" stroke="#c83028" stroke-width="1.3" opacity="0.5"/><path d="M68.0,308.2 Q36.4,320.3 4.9,332.3" stroke="#f47a5e" stroke-width="0.9" opacity="0.5"/><path d="M68.0,309.1 Q37.0,322.8 6.0,336.5" stroke="#b02624" stroke-width="1.6" opacity="0.5"/><path d="M68.0,310.1 Q37.8,325.2 7.6,340.4" stroke="#f2604a" stroke-width="1.1" opacity="0.5"/><path d="M68.0,311.0 Q39.0,327.5 10.0,343.9" stroke="#c83028" stroke-width="1.3" opacity="0.5"/><path d="M68.0,311.9 Q40.2,329.7 12.4,347.5" stroke="#f47a5e" stroke-width="0.9" opacity="0.5"/><path d="M68.0,312.9 Q41.5,331.9 15.0,350.9" stroke="#b02624" stroke-width="1.6" opacity="0.5"/><path d="M68.0,313.8 Q42.9,333.9 17.8,354.1" stroke="#f2604a" stroke-width="1.1" opacity="0.5"/><path d="M68.0,314.7 Q44.3,336.0 20.6,357.3" stroke="#c83028" stroke-width="1.3" opacity="0.5"/><path d="M68.0,315.7 Q45.7,338.1 23.4,360.6" stroke="#f47a5e" stroke-width="0.9" opacity="0.5"/><path d="M68.0,316.6 Q47.0,340.3 26.0,363.9" stroke="#b02624" stroke-width="1.6" opacity="0.5"/><path d="M68.0,317.5 Q48.3,342.4 28.7,367.3" stroke="#f2604a" stroke-width="1.1" opacity="0.5"/></g>
</g>
<g stroke-linecap="round" fill="none"><line x1="26.4" y1="269.5" x2="21.8" y2="265.7" stroke="#3e4862" stroke-width="1.3" opacity="0.85"/><line x1="25.7" y1="270.7" x2="18.5" y2="265.2" stroke="#c83028" stroke-width="1.3" opacity="0.85"/><line x1="25.0" y1="271.9" x2="17.7" y2="266.6" stroke="#56607c" stroke-width="1.3" opacity="0.85"/><line x1="20.6" y1="270.5" x2="14.4" y2="266.2" stroke="#3e4862" stroke-width="1.3" opacity="0.85"/><line x1="19.9" y1="271.6" x2="13.6" y2="267.5" stroke="#c83028" stroke-width="1.3" opacity="0.85"/><line x1="19.2" y1="272.7" x2="10.4" y2="267.1" stroke="#56607c" stroke-width="1.3" opacity="0.85"/><line x1="14.7" y1="271.5" x2="9.6" y2="268.4" stroke="#3e4862" stroke-width="1.3" opacity="0.85"/><line x1="14.3" y1="272.8" x2="6.5" y2="268.2" stroke="#c83028" stroke-width="1.3" opacity="0.85"/><line x1="15.2" y1="275.3" x2="7.3" y2="271.0" stroke="#56607c" stroke-width="1.3" opacity="0.85"/><line x1="12.2" y1="275.8" x2="5.5" y2="272.4" stroke="#3e4862" stroke-width="1.3" opacity="0.85"/><line x1="13.2" y1="278.3" x2="6.4" y2="275.1" stroke="#c83028" stroke-width="1.3" opacity="0.85"/><line x1="14.2" y1="280.8" x2="4.5" y2="276.6" stroke="#56607c" stroke-width="1.3" opacity="0.85"/><line x1="11.0" y1="281.5" x2="5.4" y2="279.3" stroke="#3e4862" stroke-width="1.3" opacity="0.85"/><line x1="12.0" y1="283.9" x2="3.6" y2="280.8" stroke="#c83028" stroke-width="1.3" opacity="0.85"/><line x1="13.1" y1="286.2" x2="4.5" y2="283.4" stroke="#56607c" stroke-width="1.3" opacity="0.85"/><line x1="10.0" y1="287.2" x2="2.8" y2="285.0" stroke="#3e4862" stroke-width="1.3" opacity="0.85"/><line x1="11.4" y1="289.5" x2="4.2" y2="287.6" stroke="#c83028" stroke-width="1.3" opacity="0.85"/><line x1="12.9" y1="291.7" x2="2.6" y2="289.3" stroke="#56607c" stroke-width="1.3" opacity="0.85"/><line x1="9.9" y1="292.9" x2="4.0" y2="291.8" stroke="#3e4862" stroke-width="1.3" opacity="0.85"/><line x1="11.3" y1="295.1" x2="2.5" y2="293.6" stroke="#c83028" stroke-width="1.3" opacity="0.85"/><line x1="12.8" y1="297.2" x2="3.9" y2="296.0" stroke="#56607c" stroke-width="1.3" opacity="0.85"/><line x1="9.8" y1="298.7" x2="2.3" y2="297.9" stroke="#3e4862" stroke-width="1.3" opacity="0.85"/><line x1="11.2" y1="300.7" x2="3.7" y2="300.2" stroke="#c83028" stroke-width="1.3" opacity="0.85"/><line x1="12.6" y1="302.7" x2="2.1" y2="302.3" stroke="#56607c" stroke-width="1.3" opacity="0.85"/><line x1="9.6" y1="304.5" x2="3.6" y2="304.4" stroke="#3e4862" stroke-width="1.3" opacity="0.85"/><line x1="11.0" y1="306.4" x2="2.0" y2="306.6" stroke="#c83028" stroke-width="1.3" opacity="0.85"/><line x1="12.3" y1="308.2" x2="3.3" y2="308.6" stroke="#56607c" stroke-width="1.3" opacity="0.85"/><line x1="9.0" y1="310.2" x2="1.6" y2="310.9" stroke="#3e4862" stroke-width="1.3" opacity="0.85"/><line x1="10.2" y1="312.0" x2="2.8" y2="312.8" stroke="#c83028" stroke-width="1.3" opacity="0.85"/><line x1="11.4" y1="313.6" x2="1.1" y2="315.1" stroke="#56607c" stroke-width="1.3" opacity="0.85"/><line x1="8.2" y1="316.0" x2="2.3" y2="317.0" stroke="#3e4862" stroke-width="1.3" opacity="0.85"/><line x1="9.4" y1="317.6" x2="0.6" y2="319.4" stroke="#c83028" stroke-width="1.3" opacity="0.85"/><line x1="10.6" y1="319.1" x2="1.8" y2="321.2" stroke="#56607c" stroke-width="1.3" opacity="0.85"/><line x1="13.6" y1="320.0" x2="0.1" y2="323.7" stroke="#e8e0e6" stroke-width="1.3" opacity="0.85"/><line x1="14.7" y1="321.4" x2="1.3" y2="325.3" stroke="#6a2030" stroke-width="1.3" opacity="0.85"/><line x1="15.8" y1="322.6" x2="-0.4" y2="327.9" stroke="#d8d4de" stroke-width="1.3" opacity="0.85"/><line x1="13.3" y1="325.3" x2="1.5" y2="329.5" stroke="#3e4862" stroke-width="1.3" opacity="0.85"/><line x1="15.1" y1="326.4" x2="0.7" y2="332.0" stroke="#e8e0e6" stroke-width="1.3" opacity="0.85"/><line x1="16.9" y1="327.5" x2="2.6" y2="333.5" stroke="#6a2030" stroke-width="1.3" opacity="0.85"/><line x1="14.6" y1="330.3" x2="1.8" y2="336.2" stroke="#d8d4de" stroke-width="1.3" opacity="0.85"/><line x1="16.3" y1="331.4" x2="3.8" y2="337.6" stroke="#3e4862" stroke-width="1.3" opacity="0.85"/><line x1="18.0" y1="332.4" x2="3.0" y2="340.3" stroke="#e8e0e6" stroke-width="1.3" opacity="0.85"/><line x1="16.2" y1="335.3" x2="5.3" y2="341.4" stroke="#6a2030" stroke-width="1.3" opacity="0.85"/><line x1="18.5" y1="336.0" x2="5.2" y2="343.9" stroke="#d8d4de" stroke-width="1.3" opacity="0.85"/><line x1="20.7" y1="336.6" x2="7.7" y2="344.9" stroke="#3e4862" stroke-width="1.3" opacity="0.85"/><line x1="19.2" y1="339.6" x2="7.6" y2="347.5" stroke="#e8e0e6" stroke-width="1.3" opacity="0.85"/><line x1="21.3" y1="340.2" x2="10.0" y2="348.4" stroke="#6a2030" stroke-width="1.3" opacity="0.85"/><line x1="23.5" y1="340.7" x2="10.0" y2="351.1" stroke="#d8d4de" stroke-width="1.3" opacity="0.85"/><line x1="22.2" y1="343.9" x2="12.5" y2="351.8" stroke="#3e4862" stroke-width="1.3" opacity="0.85"/><line x1="24.5" y1="344.2" x2="12.7" y2="354.4" stroke="#e8e0e6" stroke-width="1.3" opacity="0.85"/><line x1="26.7" y1="344.5" x2="15.3" y2="355.0" stroke="#6a2030" stroke-width="1.3" opacity="0.85"/><line x1="25.6" y1="347.9" x2="15.6" y2="357.6" stroke="#d8d4de" stroke-width="1.3" opacity="0.85"/><line x1="27.8" y1="348.1" x2="18.0" y2="358.2" stroke="#3e4862" stroke-width="1.3" opacity="0.85"/><line x1="29.9" y1="348.4" x2="18.4" y2="360.8" stroke="#e8e0e6" stroke-width="1.3" opacity="0.85"/><line x1="29.0" y1="351.9" x2="20.8" y2="361.3" stroke="#6a2030" stroke-width="1.3" opacity="0.85"/><line x1="31.1" y1="352.1" x2="21.2" y2="364.1" stroke="#d8d4de" stroke-width="1.3" opacity="0.85"/><line x1="33.0" y1="352.4" x2="23.4" y2="364.6" stroke="#3e4862" stroke-width="1.3" opacity="0.85"/><line x1="32.2" y1="356.2" x2="23.9" y2="367.4" stroke="#e8e0e6" stroke-width="1.3" opacity="0.85"/><line x1="34.1" y1="356.4" x2="26.1" y2="367.8" stroke="#6a2030" stroke-width="1.3" opacity="0.85"/><line x1="35.9" y1="356.6" x2="26.5" y2="370.7" stroke="#d8d4de" stroke-width="1.3" opacity="0.85"/></g>
<g stroke-linecap="round">
<line x1="70" y1="291.0" x2="48.0" y2="277.2" stroke="#f4f6fa" stroke-width="1.4" opacity="0.85"/>
<line x1="70" y1="292.2" x2="54.3" y2="282.3" stroke="#3f6cb6" stroke-width="1" opacity="0.75"/>
<line x1="70" y1="293.7" x2="45.1" y2="281.8" stroke="#f4f6fa" stroke-width="1.4" opacity="0.85"/>
<line x1="70" y1="294.9" x2="51.9" y2="286.2" stroke="#3f6cb6" stroke-width="1" opacity="0.75"/>
<line x1="70" y1="296.4" x2="42.4" y2="286.9" stroke="#f4f6fa" stroke-width="1.4" opacity="0.85"/>
<line x1="70" y1="297.6" x2="49.6" y2="290.6" stroke="#3f6cb6" stroke-width="1" opacity="0.75"/>
<line x1="70" y1="299.1" x2="39.9" y2="292.4" stroke="#f4f6fa" stroke-width="1.4" opacity="0.85"/>
<line x1="70" y1="300.3" x2="47.5" y2="295.3" stroke="#3f6cb6" stroke-width="1" opacity="0.75"/>
<line x1="70" y1="301.8" x2="37.8" y2="298.4" stroke="#f4f6fa" stroke-width="1.4" opacity="0.85"/>
<line x1="70" y1="303.0" x2="45.6" y2="300.5" stroke="#3f6cb6" stroke-width="1" opacity="0.75"/>
<line x1="70" y1="304.5" x2="36.0" y2="304.8" stroke="#f4f6fa" stroke-width="1.4" opacity="0.85"/>
<line x1="70" y1="305.7" x2="44.0" y2="306.1" stroke="#3f6cb6" stroke-width="1" opacity="0.75"/>
<line x1="70" y1="307.2" x2="37.8" y2="311.1" stroke="#f4f6fa" stroke-width="1.4" opacity="0.85"/>
<line x1="70" y1="308.4" x2="46.0" y2="311.4" stroke="#3f6cb6" stroke-width="1" opacity="0.75"/>
<line x1="70" y1="309.9" x2="40.1" y2="317.1" stroke="#f4f6fa" stroke-width="1.4" opacity="0.85"/>
<line x1="70" y1="311.1" x2="48.1" y2="316.4" stroke="#3f6cb6" stroke-width="1" opacity="0.75"/>
<line x1="70" y1="312.6" x2="42.6" y2="322.6" stroke="#f4f6fa" stroke-width="1.4" opacity="0.85"/>
<line x1="70" y1="313.8" x2="50.5" y2="320.9" stroke="#3f6cb6" stroke-width="1" opacity="0.75"/>
<line x1="70" y1="315.3" x2="45.3" y2="327.6" stroke="#f4f6fa" stroke-width="1.4" opacity="0.85"/>
<line x1="70" y1="316.5" x2="52.9" y2="325.0" stroke="#3f6cb6" stroke-width="1" opacity="0.75"/>
<line x1="70" y1="318.0" x2="48.2" y2="332.2" stroke="#f4f6fa" stroke-width="1.4" opacity="0.85"/>
<line x1="70" y1="319.2" x2="55.4" y2="328.6" stroke="#3f6cb6" stroke-width="1" opacity="0.75"/>
</g>
<g clip-path="url(#cAnal)">
<path d="M70,314 C82,318 104,320 124,322 C120,330 112,345 107,358 C102,366 96,374 92,377 C87,384 84,389 80,391 C74,394 68,397 63,397 C58,396 53,395 50,393 C45,389 41,385 38,383 C33,380 28,379 23,379 C16,380 10,382 5.7,384 C12,380 20,376 28.7,371.7 C36,367 42,363 47.9,358.3 C54,352 59,346 63.2,339 C67,332 72,326 76,320 Z" fill="url(#fAnal)"/>
<g fill="none" stroke-linecap="round"><path d="M73.1,316.1 Q45.0,345.6 9.0,383.1" stroke="#a82226" stroke-width="1.8" opacity="0.5"/><path d="M75.2,316.4 Q49.4,344.8 15.5,381.2" stroke="#f26a50" stroke-width="1.4" opacity="0.5"/><path d="M77.4,316.6 Q53.7,344.0 22.0,379.3" stroke="#c42e2a" stroke-width="1.2" opacity="0.5"/><path d="M79.6,316.9 Q58.1,344.7 28.6,380.5" stroke="#f48068" stroke-width="1.0" opacity="0.5"/><path d="M81.8,317.1 Q62.5,345.7 35.2,382.2" stroke="#a82226" stroke-width="1.8" opacity="0.5"/><path d="M83.9,317.4 Q66.4,347.4 41.0,385.5" stroke="#f26a50" stroke-width="1.4" opacity="0.5"/><path d="M86.1,317.6 Q70.1,349.7 46.2,389.8" stroke="#c42e2a" stroke-width="1.2" opacity="0.5"/><path d="M88.2,317.9 Q74.0,351.7 51.8,393.5" stroke="#f48068" stroke-width="1.0" opacity="0.5"/><path d="M90.4,318.1 Q78.3,352.8 58.3,395.5" stroke="#a82226" stroke-width="1.8" opacity="0.5"/><path d="M92.6,318.4 Q82.7,353.4 64.8,396.4" stroke="#f26a50" stroke-width="1.4" opacity="0.5"/><path d="M94.8,318.6 Q87.0,352.4 71.2,394.1" stroke="#c42e2a" stroke-width="1.2" opacity="0.5"/><path d="M96.9,318.9 Q91.3,351.4 77.6,391.9" stroke="#f48068" stroke-width="1.0" opacity="0.5"/><path d="M99.1,319.1 Q94.9,349.5 82.8,387.8" stroke="#a82226" stroke-width="1.8" opacity="0.5"/><path d="M101.2,319.4 Q98.2,347.0 87.2,382.6" stroke="#f26a50" stroke-width="1.4" opacity="0.5"/><path d="M103.4,319.6 Q101.5,344.5 91.6,377.5" stroke="#c42e2a" stroke-width="1.2" opacity="0.5"/><path d="M105.6,319.9 Q104.7,342.0 95.8,372.1" stroke="#f48068" stroke-width="1.0" opacity="0.5"/><path d="M107.8,320.1 Q107.9,339.5 100.1,366.8" stroke="#a82226" stroke-width="1.8" opacity="0.5"/><path d="M109.9,320.4 Q111.1,336.9 104.3,361.5" stroke="#f26a50" stroke-width="1.4" opacity="0.5"/><path d="M112.1,320.6 Q114.1,334.2 108.0,355.8" stroke="#c42e2a" stroke-width="1.2" opacity="0.5"/><path d="M114.2,320.9 Q116.6,331.3 110.9,349.7" stroke="#f48068" stroke-width="1.0" opacity="0.5"/><path d="M116.4,321.1 Q119.1,328.3 113.8,343.5" stroke="#a82226" stroke-width="1.8" opacity="0.5"/><path d="M118.6,321.4 Q121.7,325.4 116.7,337.4" stroke="#f26a50" stroke-width="1.4" opacity="0.5"/><path d="M120.8,321.6 Q124.2,322.4 119.6,331.2" stroke="#c42e2a" stroke-width="1.2" opacity="0.5"/><path d="M122.9,321.9 Q126.7,319.5 122.5,325.1" stroke="#f48068" stroke-width="1.0" opacity="0.5"/></g>
<path d="M70,316 C84,319 104,321 124,322 C118,334 110,344 100,352 C88,352 78,342 70,316 Z" fill="#8a1e22" opacity="0.55"/>
<path d="M30,372 C44,362 60,352 78,348 C90,350 92,360 86,370 C76,380 62,386 48,382 C40,380 34,376 30,372 Z" fill="#f47a64" opacity="0.3"/>
<g stroke-linecap="round"><line x1="5.7" y1="381.0" x2="4.2" y2="386.0" stroke="#3e4862" stroke-width="1.2" opacity="0.7"/><line x1="9.0" y1="380.0" x2="7.5" y2="385.0" stroke="#c83028" stroke-width="1.2" opacity="0.7"/><line x1="12.4" y1="379.1" x2="10.9" y2="384.1" stroke="#5a6680" stroke-width="1.2" opacity="0.7"/><line x1="15.7" y1="378.1" x2="14.2" y2="383.1" stroke="#e0d8de" stroke-width="1.2" opacity="0.7"/><line x1="19.0" y1="377.1" x2="17.5" y2="382.1" stroke="#3e4862" stroke-width="1.2" opacity="0.7"/><line x1="22.4" y1="376.2" x2="20.9" y2="381.2" stroke="#c83028" stroke-width="1.2" opacity="0.7"/><line x1="25.7" y1="376.7" x2="24.2" y2="381.7" stroke="#5a6680" stroke-width="1.2" opacity="0.7"/><line x1="29.1" y1="377.6" x2="27.6" y2="382.6" stroke="#e0d8de" stroke-width="1.2" opacity="0.7"/><line x1="32.4" y1="378.5" x2="30.9" y2="383.5" stroke="#3e4862" stroke-width="1.2" opacity="0.7"/><line x1="35.8" y1="379.4" x2="34.3" y2="384.4" stroke="#c83028" stroke-width="1.2" opacity="0.7"/><line x1="38.9" y1="380.7" x2="37.4" y2="385.7" stroke="#5a6680" stroke-width="1.2" opacity="0.7"/><line x1="41.6" y1="383.0" x2="40.1" y2="388.0" stroke="#e0d8de" stroke-width="1.2" opacity="0.7"/><line x1="44.2" y1="385.2" x2="42.7" y2="390.2" stroke="#3e4862" stroke-width="1.2" opacity="0.7"/><line x1="46.9" y1="387.4" x2="45.4" y2="392.4" stroke="#c83028" stroke-width="1.2" opacity="0.7"/><line x1="49.5" y1="389.6" x2="48.0" y2="394.6" stroke="#5a6680" stroke-width="1.2" opacity="0.7"/><line x1="52.8" y1="390.8" x2="51.3" y2="395.8" stroke="#e0d8de" stroke-width="1.2" opacity="0.7"/><line x1="56.1" y1="391.9" x2="54.6" y2="396.9" stroke="#3e4862" stroke-width="1.2" opacity="0.7"/><line x1="59.4" y1="392.9" x2="57.9" y2="397.9" stroke="#c83028" stroke-width="1.2" opacity="0.7"/><line x1="62.7" y1="393.9" x2="61.2" y2="398.9" stroke="#5a6680" stroke-width="1.2" opacity="0.7"/><line x1="66.0" y1="393.0" x2="64.5" y2="398.0" stroke="#e0d8de" stroke-width="1.2" opacity="0.7"/><line x1="69.2" y1="391.8" x2="67.7" y2="396.8" stroke="#3e4862" stroke-width="1.2" opacity="0.7"/><line x1="72.5" y1="390.6" x2="71.0" y2="395.6" stroke="#c83028" stroke-width="1.2" opacity="0.7"/><line x1="75.8" y1="389.5" x2="74.3" y2="394.5" stroke="#5a6680" stroke-width="1.2" opacity="0.7"/><line x1="79.1" y1="388.3" x2="77.6" y2="393.3" stroke="#e0d8de" stroke-width="1.2" opacity="0.7"/><line x1="81.6" y1="386.1" x2="80.1" y2="391.1" stroke="#3e4862" stroke-width="1.2" opacity="0.7"/><line x1="83.9" y1="383.5" x2="82.4" y2="388.5" stroke="#c83028" stroke-width="1.2" opacity="0.7"/><line x1="86.1" y1="380.9" x2="84.6" y2="385.9" stroke="#5a6680" stroke-width="1.2" opacity="0.7"/><line x1="88.4" y1="378.2" x2="86.9" y2="383.2" stroke="#e0d8de" stroke-width="1.2" opacity="0.7"/><line x1="90.6" y1="375.6" x2="89.1" y2="380.6" stroke="#3e4862" stroke-width="1.2" opacity="0.7"/><line x1="92.9" y1="372.9" x2="91.4" y2="377.9" stroke="#c83028" stroke-width="1.2" opacity="0.7"/><line x1="95.0" y1="370.2" x2="93.5" y2="375.2" stroke="#5a6680" stroke-width="1.2" opacity="0.7"/><line x1="97.2" y1="367.5" x2="95.7" y2="372.5" stroke="#e0d8de" stroke-width="1.2" opacity="0.7"/><line x1="99.3" y1="364.8" x2="97.8" y2="369.8" stroke="#3e4862" stroke-width="1.2" opacity="0.7"/><line x1="101.5" y1="362.0" x2="100.0" y2="367.0" stroke="#c83028" stroke-width="1.2" opacity="0.7"/><line x1="103.6" y1="359.3" x2="102.1" y2="364.3" stroke="#5a6680" stroke-width="1.2" opacity="0.7"/><line x1="105.7" y1="356.6" x2="104.2" y2="361.6" stroke="#e0d8de" stroke-width="1.2" opacity="0.7"/><line x1="107.6" y1="353.7" x2="106.1" y2="358.7" stroke="#3e4862" stroke-width="1.2" opacity="0.7"/><line x1="109.1" y1="350.6" x2="107.6" y2="355.6" stroke="#c83028" stroke-width="1.2" opacity="0.7"/><line x1="110.6" y1="347.4" x2="109.1" y2="352.4" stroke="#5a6680" stroke-width="1.2" opacity="0.7"/><line x1="112.1" y1="344.3" x2="110.6" y2="349.3" stroke="#e0d8de" stroke-width="1.2" opacity="0.7"/></g>
</g>
<g clip-path="url(#cDors)">
<path d="M122,281 C122,263 120,251 115,243 C108,235 98,231 84,228 C70,225 50,225 38,226 C32,226.5 27,227.5 22,229 C28,233 32,238 33.5,245 C35,253 35,263 33,274 C50,288 90,286 122,281 Z" fill="url(#fDors)"/>
<g fill="none" stroke-linecap="round"><path d="M41.2,279.1 Q41.2,253.4 9.0,227.7" stroke="#a82428" stroke-width="1.6" opacity="0.6"/><path d="M43.7,279.2 Q43.7,253.1 12.9,227.0" stroke="#f0584a" stroke-width="1.2" opacity="0.6"/><path d="M46.1,279.3 Q46.1,252.8 16.9,226.3" stroke="#c03030" stroke-width="1.4" opacity="0.6"/><path d="M48.5,279.4 Q48.5,252.7 20.9,226.0" stroke="#f46c58" stroke-width="1.0" opacity="0.6"/><path d="M51.0,279.5 Q51.0,252.8 24.9,226.0" stroke="#a82428" stroke-width="1.6" opacity="0.6"/><path d="M53.4,279.7 Q53.4,252.8 28.9,226.0" stroke="#f0584a" stroke-width="1.2" opacity="0.6"/><path d="M55.9,279.8 Q55.9,252.9 33.0,226.0" stroke="#c03030" stroke-width="1.4" opacity="0.6"/><path d="M58.3,279.9 Q58.3,253.0 37.0,226.0" stroke="#f46c58" stroke-width="1.0" opacity="0.6"/><path d="M60.7,280.0 Q60.7,253.0 41.0,225.9" stroke="#a82428" stroke-width="1.6" opacity="0.6"/><path d="M63.2,280.2 Q63.2,253.0 45.0,225.9" stroke="#f0584a" stroke-width="1.2" opacity="0.6"/><path d="M65.6,280.3 Q65.6,253.0 49.0,225.8" stroke="#c03030" stroke-width="1.4" opacity="0.6"/><path d="M68.1,280.4 Q68.1,253.1 53.0,225.8" stroke="#f46c58" stroke-width="1.0" opacity="0.6"/><path d="M70.5,280.5 Q70.5,253.1 57.1,225.7" stroke="#a82428" stroke-width="1.6" opacity="0.6"/><path d="M72.9,280.6 Q72.9,253.4 61.1,226.2" stroke="#f0584a" stroke-width="1.2" opacity="0.6"/><path d="M75.4,280.8 Q75.4,253.7 65.0,226.7" stroke="#c03030" stroke-width="1.4" opacity="0.6"/><path d="M77.8,280.9 Q77.8,254.1 69.0,227.2" stroke="#f46c58" stroke-width="1.0" opacity="0.6"/><path d="M80.3,281.0 Q80.3,254.4 73.0,227.7" stroke="#a82428" stroke-width="1.6" opacity="0.6"/><path d="M82.7,280.9 Q82.7,254.6 77.0,228.2" stroke="#f0584a" stroke-width="1.2" opacity="0.6"/><path d="M85.1,280.9 Q85.1,254.8 81.0,228.7" stroke="#c03030" stroke-width="1.4" opacity="0.6"/><path d="M87.6,280.8 Q87.6,255.0 85.0,229.2" stroke="#f46c58" stroke-width="1.0" opacity="0.6"/><path d="M90.0,280.8 Q90.0,255.2 89.0,229.7" stroke="#a82428" stroke-width="1.6" opacity="0.6"/><path d="M92.5,280.7 Q92.5,255.4 93.0,230.1" stroke="#f0584a" stroke-width="1.2" opacity="0.6"/><path d="M94.9,280.7 Q94.9,255.8 96.9,230.9" stroke="#c03030" stroke-width="1.4" opacity="0.6"/><path d="M97.4,280.6 Q97.4,256.5 100.6,232.4" stroke="#f46c58" stroke-width="1.0" opacity="0.6"/><path d="M99.8,280.5 Q99.8,257.2 104.3,233.9" stroke="#a82428" stroke-width="1.6" opacity="0.6"/><path d="M102.2,280.5 Q102.2,258.1 107.8,235.8" stroke="#f0584a" stroke-width="1.2" opacity="0.6"/><path d="M104.7,280.4 Q104.7,259.5 110.6,238.6" stroke="#c03030" stroke-width="1.4" opacity="0.6"/><path d="M107.1,280.4 Q107.1,260.9 113.5,241.5" stroke="#f46c58" stroke-width="1.0" opacity="0.6"/><path d="M109.6,280.3 Q109.6,262.5 115.7,244.7" stroke="#a82428" stroke-width="1.6" opacity="0.6"/><path d="M112.0,280.3 Q112.0,264.4 117.1,248.5" stroke="#f0584a" stroke-width="1.2" opacity="0.6"/><path d="M114.5,280.2 Q114.5,266.2 118.6,252.3" stroke="#c03030" stroke-width="1.4" opacity="0.6"/><path d="M116.9,280.1 Q116.9,268.1 120.0,256.0" stroke="#f46c58" stroke-width="1.0" opacity="0.6"/><path d="M119.3,280.1 Q119.3,270.0 120.4,260.0" stroke="#a82428" stroke-width="1.6" opacity="0.6"/><path d="M121.8,280.0 Q121.8,272.0 120.8,264.0" stroke="#f0584a" stroke-width="1.2" opacity="0.6"/></g>
</g>
<g stroke-linecap="round" fill="none">
<path d="M70.0,279 Q70.0,268.8 61.0,262.0" stroke="#f2f4f8" stroke-width="1.6" opacity="0.8"/>
<path d="M72.0,279 Q72.0,270.5 62.5,268.0" stroke="#7aa8e0" stroke-width="0.9" opacity="0.7"/>
<path d="M74.2,279 Q74.2,268.4 65.7,261.4" stroke="#f2f4f8" stroke-width="1.6" opacity="0.8"/>
<path d="M76.2,279 Q76.2,270.2 67.2,267.4" stroke="#7aa8e0" stroke-width="0.9" opacity="0.7"/>
<path d="M78.4,279 Q78.4,268.1 70.3,260.8" stroke="#f2f4f8" stroke-width="1.6" opacity="0.8"/>
<path d="M80.4,279 Q80.4,269.9 71.8,266.8" stroke="#7aa8e0" stroke-width="0.9" opacity="0.7"/>
<path d="M82.6,279 Q82.6,267.7 74.9,260.2" stroke="#f2f4f8" stroke-width="1.6" opacity="0.8"/>
<path d="M84.6,279 Q84.6,269.6 76.4,266.2" stroke="#7aa8e0" stroke-width="0.9" opacity="0.7"/>
<path d="M86.8,279 Q86.8,267.4 79.6,259.6" stroke="#f2f4f8" stroke-width="1.6" opacity="0.8"/>
<path d="M88.8,279 Q88.8,269.3 81.1,265.6" stroke="#7aa8e0" stroke-width="0.9" opacity="0.7"/>
<path d="M91.0,279 Q91.0,267.0 84.2,259.0" stroke="#f2f4f8" stroke-width="1.6" opacity="0.8"/>
<path d="M93.0,279 Q93.0,269.0 85.8,265.0" stroke="#7aa8e0" stroke-width="0.9" opacity="0.7"/>
<path d="M95.2,279 Q95.2,266.6 88.9,258.4" stroke="#f2f4f8" stroke-width="1.6" opacity="0.8"/>
<path d="M97.2,279 Q97.2,268.7 90.4,264.4" stroke="#7aa8e0" stroke-width="0.9" opacity="0.7"/>
<path d="M99.4,279 Q99.4,266.3 93.6,257.8" stroke="#f2f4f8" stroke-width="1.6" opacity="0.8"/>
<path d="M101.4,279 Q101.4,268.4 95.1,263.8" stroke="#7aa8e0" stroke-width="0.9" opacity="0.7"/>
<path d="M103.6,279 Q103.6,265.9 98.2,257.2" stroke="#f2f4f8" stroke-width="1.6" opacity="0.8"/>
<path d="M105.6,279 Q105.6,268.1 99.7,263.2" stroke="#7aa8e0" stroke-width="0.9" opacity="0.7"/>
<path d="M107.8,279 Q107.8,265.6 102.9,256.6" stroke="#f2f4f8" stroke-width="1.6" opacity="0.8"/>
<path d="M109.8,279 Q109.8,267.8 104.4,262.6" stroke="#7aa8e0" stroke-width="0.9" opacity="0.7"/>
<path d="M112.0,279 Q112.0,265.2 107.5,256.0" stroke="#f2f4f8" stroke-width="1.6" opacity="0.8"/>
<path d="M114.0,279 Q114.0,267.5 109.0,262.0" stroke="#7aa8e0" stroke-width="0.9" opacity="0.7"/>
<path d="M116.2,279 Q116.2,264.8 112.2,255.4" stroke="#f2f4f8" stroke-width="1.6" opacity="0.8"/>
<path d="M118.2,279 Q118.2,267.2 113.7,261.4" stroke="#7aa8e0" stroke-width="0.9" opacity="0.7"/>
<path d="M120.4,279 Q120.4,264.5 116.8,254.8" stroke="#f2f4f8" stroke-width="1.6" opacity="0.8"/>
<path d="M122.4,279 Q122.4,266.9 118.3,260.8" stroke="#7aa8e0" stroke-width="0.9" opacity="0.7"/>
</g>
<g fill="none" stroke-linecap="round"><path d="M34,236 Q20,230 5,228" stroke="#c83a30" stroke-width="1.5"/><path d="M36,230 Q28,226 17,224.5" stroke="#d04030" stroke-width="1.4"/><path d="M36,244 Q30,236 22,233" stroke="#b83030" stroke-width="1"/></g>
<path d="M119,276 C121,266 121,256 118,248" fill="none" stroke="#6ab4e8" stroke-width="2.2" opacity="0.8"/>
<path d="M30,262 C34,266 38,270 40,274" fill="none" stroke="#5aa0d8" stroke-width="3" opacity="0.7"/>
<!-- body -->
<path d="M62,292 C70,281 90,276 120,276 C140,277 156,282 172,294 C188,304 200,312 210,320 C211,326 208,330 200,331 C190,334 180,338 167,338 C150,336 132,327 112,322 C90,318 72,314 62,306 Z" fill="url(#fBody)"/>
<path d="M62,292 C70,281 90,276 120,276 C140,277 156,282 172,294 C188,304 200,312 210,320 C211,326 208,330 200,331 C190,334 180,338 167,338 C150,336 132,327 112,322 C90,318 72,314 62,306 Z" fill="url(#scales)"/>
<!-- head -->
<g mask="url(#mHead)"><path d="M140,281 C160,287 176,293 190,301 C200,308 206,312 209.5,317 C211,321 209,325 204,328.5 C196,333 188,336.5 181,337.7 C174,338 168,337 160,335 C150,326 146,304 140,281 Z" fill="url(#fHead2)"/></g>
<path d="M148,283 C160,287 176,293 190,301 C200,308 206,312 209.5,317 C211,321 209,325 204,328.5 C196,333 188,336.5 181,337.7 C174,338 168,337 165,335.7 C158,326 154,304 148,283 Z" fill="url(#scales)" opacity="0.6"/>
<!-- gill blue -->
<path d="M162,305 C168,302 176,306 180,313 C183,322 182,331 178,336 C172,337 166,336 163,333 C160,326 159,314 162,305 Z" fill="#5478b8" opacity="0.85"/>
<path d="M163,306 C167,305 171,308 172,314 C172,320 168,326 164,328 C161,320 161,312 163,306 Z" fill="#3a3a80" opacity="0.45"/>
<path d="M162,305 C159,314 160,326 163,333" fill="none" stroke="#2a2e60" stroke-width="2" opacity="0.7"/>
<path d="M166,311 C170,316 172,324 171,332" fill="none" stroke="#8ad0ff" stroke-width="1.8" opacity="0.85"/>
<path d="M172,308 C176,314 178,322 177,330" fill="none" stroke="#3050a0" stroke-width="1.5" opacity="0.7"/>
<!-- eye -->
<circle cx="188.7" cy="320.2" r="5.3" fill="#1c1a22"/>
<circle cx="188.7" cy="320.2" r="5.7" fill="none" stroke="#9098b0" stroke-width="0.8"/>
<circle cx="187.3" cy="318.6" r="1.3" fill="#8890a0" opacity="0.6"/>
<ellipse cx="202.6" cy="313.2" rx="1.8" ry="1.2" fill="#3a2a30"/>
<path d="M198,327 C203,327 207,326 209.5,322" fill="none" stroke="#b88080" stroke-width="1" opacity="0.7"/>
<!-- ventral fins -->
<path d="M152,336 C140,339 126,343 112,346 C113,352 114,358 116.5,363 C126,356 140,348 154,341 Z" fill="url(#fVen1)"/>
<path d="M164,339 C156,337 146,340 136,346 C134,356 136,366 140,374 C147,364 156,352 164,339 Z" fill="url(#fVen2)"/>

<g stroke-linecap="round"><line x1="116.0" y1="344.0" x2="110.0" y2="347.5" stroke="#4a5470" stroke-width="1.2" opacity="0.75"/><line x1="116.5" y1="345.9" x2="110.5" y2="349.4" stroke="#d8d0d8" stroke-width="1.2" opacity="0.75"/><line x1="117.0" y1="347.8" x2="111.0" y2="351.3" stroke="#6a3040" stroke-width="1.2" opacity="0.75"/><line x1="117.5" y1="349.7" x2="111.5" y2="353.2" stroke="#4a5470" stroke-width="1.2" opacity="0.75"/><line x1="118.0" y1="351.6" x2="112.0" y2="355.1" stroke="#d8d0d8" stroke-width="1.2" opacity="0.75"/><line x1="118.5" y1="353.4" x2="112.5" y2="356.9" stroke="#6a3040" stroke-width="1.2" opacity="0.75"/><line x1="119.0" y1="355.3" x2="113.0" y2="358.8" stroke="#4a5470" stroke-width="1.2" opacity="0.75"/><line x1="119.5" y1="357.2" x2="113.5" y2="360.7" stroke="#d8d0d8" stroke-width="1.2" opacity="0.75"/><line x1="120.0" y1="359.1" x2="114.0" y2="362.6" stroke="#6a3040" stroke-width="1.2" opacity="0.75"/><line x1="120.5" y1="361.0" x2="114.5" y2="364.5" stroke="#4a5470" stroke-width="1.2" opacity="0.75"/><line x1="139.0" y1="346.0" x2="134.0" y2="349.0" stroke="#4a5470" stroke-width="1.2" opacity="0.75"/><line x1="138.9" y1="348.4" x2="133.9" y2="351.4" stroke="#d0c8d0" stroke-width="1.2" opacity="0.75"/><line x1="139.0" y1="350.7" x2="134.0" y2="353.7" stroke="#6a3040" stroke-width="1.2" opacity="0.75"/><line x1="139.0" y1="353.1" x2="134.0" y2="356.1" stroke="#4a5470" stroke-width="1.2" opacity="0.75"/><line x1="139.2" y1="355.5" x2="134.2" y2="358.5" stroke="#d0c8d0" stroke-width="1.2" opacity="0.75"/><line x1="139.4" y1="357.8" x2="134.4" y2="360.8" stroke="#6a3040" stroke-width="1.2" opacity="0.75"/><line x1="139.6" y1="360.2" x2="134.6" y2="363.2" stroke="#4a5470" stroke-width="1.2" opacity="0.75"/><line x1="140.0" y1="362.5" x2="135.0" y2="365.5" stroke="#d0c8d0" stroke-width="1.2" opacity="0.75"/><line x1="140.4" y1="364.9" x2="135.4" y2="367.9" stroke="#6a3040" stroke-width="1.2" opacity="0.75"/><line x1="140.9" y1="367.3" x2="135.9" y2="370.3" stroke="#4a5470" stroke-width="1.2" opacity="0.75"/><line x1="141.4" y1="369.6" x2="136.4" y2="372.6" stroke="#d0c8d0" stroke-width="1.2" opacity="0.75"/><line x1="142.0" y1="372.0" x2="137.0" y2="375.0" stroke="#6a3040" stroke-width="1.2" opacity="0.75"/></g>
<!-- white patch below pectoral -->
<path d="M148,330 C154,328 160,330 165,336 C158,340 152,339 148,337 Z" fill="#eae6ea"/>
<!-- pectoral fin -->
<path d="M157,331 C154,318 152,302 148,291 C140,292 132,298 127,308 C122,318 120,332 122,342 C126,348 132,349 138,347 C146,342 152,337 157,331 Z" fill="url(#fPect)"/>

<g fill="none" stroke-linecap="round"><path d="M156.0,331.0 Q151.0,311.1 145.9,291.3" stroke="#f06650" stroke-width="0.9" opacity="0.6"/><path d="M156.0,331.0 Q148.9,311.4 141.8,291.8" stroke="#b02a26" stroke-width="0.8" opacity="0.6"/><path d="M156.0,331.0 Q147.1,312.2 138.1,293.4" stroke="#f06650" stroke-width="0.9" opacity="0.6"/><path d="M156.0,331.0 Q145.4,313.4 134.8,295.9" stroke="#b02a26" stroke-width="0.8" opacity="0.6"/><path d="M156.0,331.0 Q143.9,314.8 131.7,298.6" stroke="#f06650" stroke-width="0.9" opacity="0.6"/><path d="M156.0,331.0 Q142.9,316.7 129.8,302.3" stroke="#b02a26" stroke-width="0.8" opacity="0.6"/><path d="M156.0,331.0 Q142.0,318.5 128.0,306.0" stroke="#f06650" stroke-width="0.9" opacity="0.6"/><path d="M156.0,331.0 Q141.1,320.4 126.1,309.8" stroke="#b02a26" stroke-width="0.8" opacity="0.6"/><path d="M156.0,331.0 Q140.2,322.2 124.3,313.5" stroke="#f06650" stroke-width="0.9" opacity="0.6"/><path d="M156.0,331.0 Q139.2,324.1 122.4,317.2" stroke="#b02a26" stroke-width="0.8" opacity="0.6"/><path d="M156.1,331.0 Q138.8,326.1 121.5,321.2" stroke="#f06650" stroke-width="0.9" opacity="0.6"/><path d="M156.1,331.0 Q138.5,328.2 121.0,325.3" stroke="#b02a26" stroke-width="0.8" opacity="0.6"/><path d="M156.1,331.0 Q138.2,330.2 120.4,329.5" stroke="#f06650" stroke-width="0.9" opacity="0.6"/><path d="M156.1,331.0 Q138.2,332.3 120.3,333.6" stroke="#b02a26" stroke-width="0.8" opacity="0.6"/><path d="M156.1,331.0 Q138.6,334.3 121.1,337.7" stroke="#f06650" stroke-width="0.9" opacity="0.6"/><path d="M156.1,331.0 Q139.0,336.4 121.9,341.7" stroke="#b02a26" stroke-width="0.8" opacity="0.6"/><path d="M156.1,331.0 Q140.5,337.7 125.0,344.5" stroke="#f06650" stroke-width="0.9" opacity="0.6"/><path d="M156.1,331.0 Q142.2,339.0 128.2,347.1" stroke="#b02a26" stroke-width="0.8" opacity="0.6"/><path d="M156.1,331.0 Q144.0,339.6 131.9,348.2" stroke="#f06650" stroke-width="0.9" opacity="0.6"/><path d="M156.1,331.0 Q146.0,339.2 136.0,347.4" stroke="#b02a26" stroke-width="0.8" opacity="0.6"/></g>
</svg>
</body></html>
